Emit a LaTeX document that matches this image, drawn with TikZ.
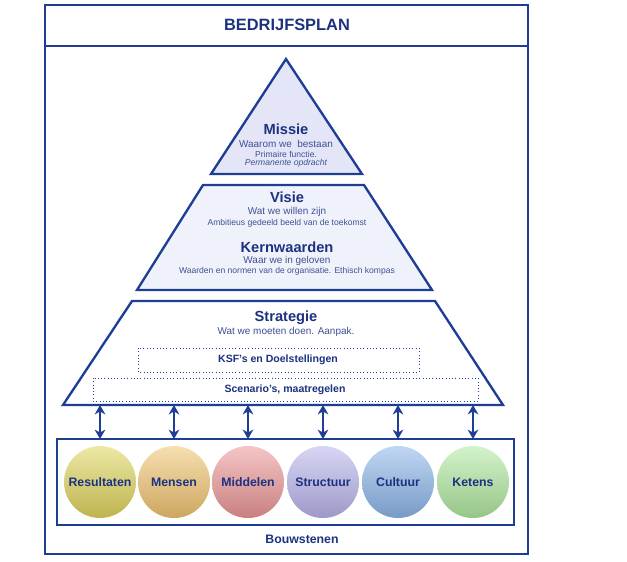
\documentclass[tikz,border=0pt]{standalone}
\usepackage{fontspec}
\setmainfont{Liberation Sans}
\usetikzlibrary{arrows.meta}

\definecolor{planblue}{RGB}{30,62,150}
\definecolor{tekstblue}{RGB}{28,50,128}
\definecolor{missiefill}{RGB}{228,230,248}
\definecolor{visiefill}{RGB}{240,242,251}
\definecolor{geel}{RGB}{222,212,92}
\definecolor{oranje}{RGB}{240,196,112}
\definecolor{rood}{RGB}{236,150,150}
\definecolor{paars}{RGB}{184,180,236}
\definecolor{blauw}{RGB}{140,182,234}
\definecolor{groen}{RGB}{176,232,160}

\tikzset{
  lijn/.style={draw=planblue, line width=1.7pt},
  laag/.style={draw=planblue, line width=2pt, line join=miter},
  titel/.style={font=\bfseries\fontsize{14}{16}\selectfont, text=tekstblue},
  kop/.style={font=\bfseries\fontsize{12.5}{14}\selectfont, text=tekstblue},
  sub/.style={font=\fontsize{8.5}{10}\selectfont, text=tekstblue!85},
  klein/.style={font=\fontsize{7.3}{9}\selectfont, text=tekstblue!85},
  stippel/.style={draw=planblue, dotted, thick},
  vak/.style={font=\bfseries\fontsize{9}{11}\selectfont, text=tekstblue},
  bal/.style={circle, minimum size=2.16cm, inner sep=0pt,
    font=\bfseries\fontsize{10.5}{12}\selectfont, text=tekstblue},
  dubbel/.style={draw=planblue, line width=2pt,
    {Stealth[length=8pt,width=9pt,inset=2.5pt]}-{Stealth[length=8pt,width=9pt,inset=2.5pt]}}
}

\begin{document}
\begin{tikzpicture}[x=0.03cm, y=-0.03cm]
    \useasboundingbox (0,0) rectangle (627,561);

    % kader
    \draw[lijn] (45,5) rectangle (528,554);
    \draw[lijn] (45,46) -- (528,46);
    \node[titel] (bedrijfsplan) at (287,25) {BEDRIJFSPLAN};

    % piramide
    \draw[laag, fill=missiefill] (286,59) -- (362,174) -- (211,174) -- cycle;
    \draw[laag, fill=visiefill] (203,185) -- (364,185) -- (432,290) -- (137,290) -- cycle;
    \draw[laag, fill=white] (132,301) -- (435,301) -- (503,405) -- (63,405) -- cycle;

    \node[kop] (missie) at (286,129) {Missie};
    \node[sub] (waarom) at (286,144) {Waarom we\ \ bestaan};
    \node[klein] (primair) at (286,154.5) {Primaire functie.};
    \node[klein, font=\itshape\fontsize{7.3}{9}\selectfont] (permanent) at (286,163.5) {Permanente opdracht};

    \node[kop] (visie) at (287,197) {Visie};
    \node[sub] (willen) at (287,212) {Wat we willen zijn};
    \node[klein] (ambitie) at (287,223) {Ambitieus gedeeld beeld van de toekomst};
    \node[kop] (kernwaarden) at (287,247) {Kernwaarden};
    \node[sub] (geloven) at (287,261) {Waar we in geloven};
    \node[klein] (normen) at (287,271) {Waarden en normen van de organisatie. Ethisch kompas};

    \node[kop] (strategie) at (286,318) {Strategie};
    \node[sub] (aanpak) at (286,332) {Wat we moeten doen. Aanpak.};

    \draw[stippel] (138,348) rectangle (419,372);
    \node[vak] (ksf) at (278,360) {KSF's en Doelstellingen};
    \draw[stippel] (93,378) rectangle (478,401);
    \node[vak] (scenario) at (285,390) {Scenario's, maatregelen};

    % bouwstenen
    \coordinate (stratbasis) at (0,405);
    \draw[lijn] (57,439) rectangle (514,525);
    \coordinate (bouwtop) at (0,439);
    \node[font=\bfseries\fontsize{10.5}{12}\selectfont, text=tekstblue] (bouwstenen) at (302,539) {Bouwstenen};

    \foreach \x/\kleur/\naam [count=\i] in {100/geel/Resultaten, 174/oranje/Mensen,
        248/rood/Middelen, 323/paars/Structuur, 398/blauw/Cultuur, 473/groen/Ketens} {
        \node[bal, top color=\kleur!55!white, bottom color=\kleur!85!black] (b\i) at (\x,482) {\naam};
        \draw[dubbel] (b\i |- stratbasis) -- (b\i |- bouwtop);
    }

\end{tikzpicture}
\end{document}
